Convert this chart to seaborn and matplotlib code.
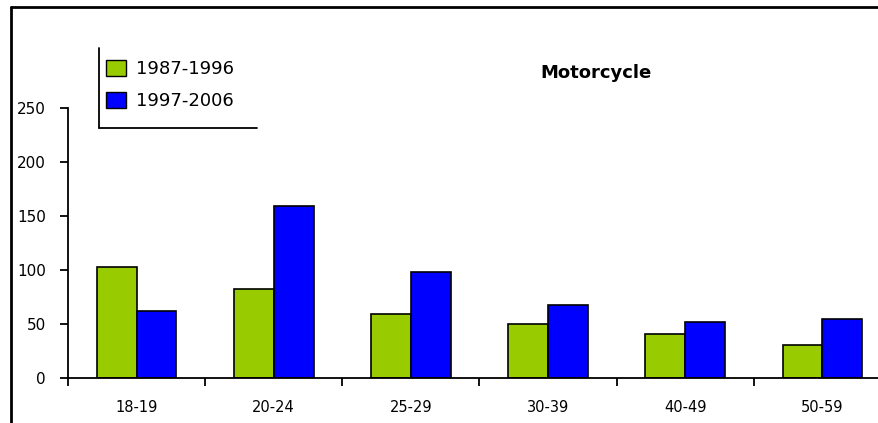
import pandas as pd
import numpy as np
import matplotlib
matplotlib.use('Agg')
import matplotlib.pyplot as plt
from matplotlib.lines import Line2D
import seaborn as sns

# data
ages = ['18-19', '20-24', '25-29', '30-39', '40-49', '50-59']
period1 = [103, 82, 59, 50, 41, 31]     # 1987-1996
period2 = [62, 159, 98, 68, 52, 55]     # 1997-2006
periods = ['1987-1996', '1997-2006']
colors = ['#99CC00', '#0000FF']

data = pd.DataFrame({
    'age': ages * 2,
    'value': period1 + period2,
    'period': [periods[0]] * len(ages) + [periods[1]] * len(ages),
})

sns.set_style("white")
plt.rcParams['font.family'] = ['DejaVu Sans']
plt.rcParams['text.color'] = 'black'
plt.rcParams['xtick.color'] = 'black'
plt.rcParams['ytick.color'] = 'black'

fig = plt.figure(figsize=(8.79, 4.23), dpi=100)
ax = fig.add_axes([68/879, 45/423, (891-68)/879, (378-108)/423])

sns.barplot(data=data, x='age', y='value', hue='period', palette=colors, saturation=1,
            width=0.58, edgecolor='black', linewidth=1.2, ax=ax, legend=False)

ax.set_xlim(-0.5, len(ages) - 0.5)
ax.set_ylim(0, 250)
ax.set_yticks(range(0, 251, 50))
ax.set_xlabel('')
ax.set_ylabel('')
for s in ['top', 'right']:
    ax.spines[s].set_visible(False)
for s in ['left', 'bottom']:
    ax.spines[s].set_color('black')
    ax.spines[s].set_linewidth(1.3)

ax.tick_params(axis='y', direction='out', length=6, width=1.3, pad=10, labelsize=11, left=True)
ax.tick_params(axis='x', which='major', length=0, pad=16, labelsize=10.5)
ax.set_xticks(np.arange(-0.5, len(ages), 1), minor=True)
ax.tick_params(axis='x', which='minor', direction='out', length=6, width=1.3, bottom=True)

fig.text(0.678, 0.827, 'Motorcycle', fontsize=13, fontweight='bold', ha='center', va='center')

# legend with only left and bottom border lines
handles = [plt.Rectangle((0, 0), 1, 1, facecolor=c, edgecolor='black', linewidth=1) for c in colors]
fig.legend(handles, periods, loc='upper left', bbox_to_anchor=(0.112, 0.875),
           frameon=False, fontsize=13, handlelength=1.1, handleheight=1.0,
           handletextpad=0.6, labelspacing=0.75, borderaxespad=0)
fig.add_artist(Line2D([99/879, 99/879], [1 - 48/423, 1 - 128/423], color='black', lw=1.3))
fig.add_artist(Line2D([99/879, 257/879], [1 - 128/423, 1 - 128/423], color='black', lw=1.3))

# outer frame (top and left)
fig.add_artist(Line2D([11/879, 1], [1 - 7.5/423, 1 - 7.5/423], color='black', lw=2))
fig.add_artist(Line2D([11/879, 11/879], [0, 1 - 7.5/423], color='black', lw=2))

fig.savefig('out.png', dpi=100)
